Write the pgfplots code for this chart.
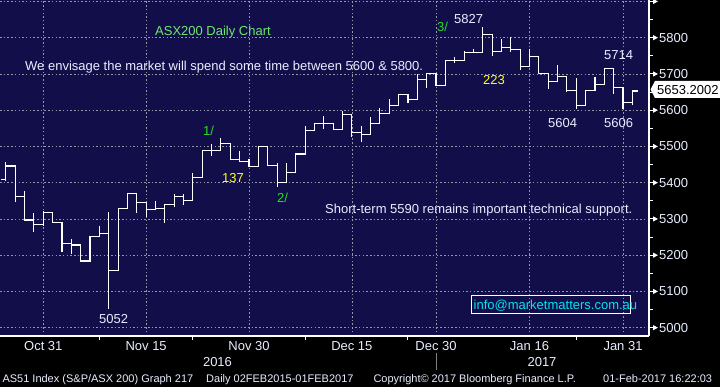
\documentclass[border=0pt]{standalone}
\usepackage{fontspec}
\setmainfont{Liberation Sans}
\usepackage{pgfplots}
\pgfplotsset{compat=1.18}
\usepackage{pgfplotstable}
\usetikzlibrary{arrows.meta}

\definecolor{bgnavy}{RGB}{17,14,74}
\definecolor{gridgray}{RGB}{150,150,165}
\definecolor{axtext}{RGB}{232,238,255}
\definecolor{lgreen}{RGB}{110,232,110}
\definecolor{wgreen}{RGB}{40,220,40}
\definecolor{wyellow}{RGB}{255,255,40}
\definecolor{wcyan}{RGB}{0,228,240}

% trading-day index k (0 = 25 Oct 2016), open, high, low, close
\pgfplotstableread{
k O H L C
0 5409 5455 5405 5446
1 5446 5446 5348 5363
2 5363 5375 5297 5297
3 5297 5316 5265 5285
4 5285 5320 5283 5318
5 5318 5318 5289 5291
6 5291 5291 5210 5231
7 5231 5244 5205 5228
8 5228 5228 5184 5184
9 5184 5251 5184 5251
10 5251 5279 5251 5260
11 5260 5317 5052 5158
12 5158 5329 5158 5329
13 5329 5371 5329 5371
14 5371 5371 5317 5346
15 5346 5346 5306 5327
16 5327 5348 5325 5329
17 5329 5341 5290 5341
18 5341 5368 5335 5363
19 5363 5368 5340 5350
20 5350 5426 5350 5414
21 5414 5488 5414 5488
22 5488 5504 5476 5488
23 5488 5523 5488 5509
24 5509 5509 5464 5464
25 5464 5485 5459 5459
26 5459 5465 5444 5444
27 5444 5501 5444 5501
28 5501 5501 5447 5447
29 5447 5453 5389 5400
30 5400 5453 5400 5429
31 5429 5479 5429 5479
32 5479 5554 5479 5545
33 5545 5564 5545 5564
34 5564 5582 5550 5564
35 5564 5564 5547 5547
36 5547 5596 5547 5587
37 5587 5587 5527 5539
38 5539 5554 5513 5533
39 5533 5580 5533 5564
40 5564 5605 5564 5591
41 5591 5628 5591 5613
42 5613 5644 5613 5644
43 5644 5644 5621 5630
44 5630 5697 5630 5685
45 5685 5700 5663 5700
46 5700 5700 5667 5667
47 5667 5736 5667 5736
48 5736 5746 5731 5738
49 5738 5761 5738 5760
50 5760 5766 5758 5760
51 5760 5827 5759 5810
52 5810 5810 5752 5761
53 5761 5794 5761 5772
54 5772 5800 5761 5768
55 5768 5768 5713 5720
56 5720 5768 5720 5748
57 5748 5748 5700 5702
58 5702 5702 5660 5680
59 5680 5722 5680 5692
60 5692 5692 5651 5654
61 5654 5688 5604 5613
62 5613 5654 5613 5654
63 5654 5691 5654 5672
64 5672 5714 5672 5714
65 5714 5714 5647 5663
66 5663 5663 5606 5621
67 5621 5655 5616 5653
}\ohlc

\begin{document}
\begin{tikzpicture}[every node/.style={inner sep=0pt, font=\fontsize{13}{13}\selectfont}]
\useasboundingbox (0pt,0pt) rectangle (720pt,-387pt);
\fill[black] (0pt,0pt) rectangle (720pt,-387pt);
\begin{axis}[
  at={(0pt,-336pt)}, anchor=south west,
  scale only axis, width=649pt, height=336pt,
  xmin=-0.63, xmax=68.78, ymin=4977, ymax=5904,
  axis background/.style={fill=bgnavy},
  axis x line*=bottom, axis y line*=right,
  axis line style={white, line width=1.2pt},
  xtick={4,15,26,37,46,56,66},
  xticklabels={Oct 31,Nov 15,Nov 30,Dec 15,Dec 30,Jan 16,Jan 31},
  minor xtick={10,20,32,43,61},
  ytick={5000,5100,5200,5300,5400,5500,5600,5700,5800,5900},
  yticklabels={5000,5100,5200,5300,5400,5500,5600,5700,5800,{}},
  minor ytick={5050,5150,5250,5350,5450,5550,5650,5750,5850},
  major tick length=0pt, minor tick length=3.5pt,
  tick align=outside,
  tick style={white, line width=1pt},
  grid=major,
  major grid style={gridgray, dash pattern=on 1.5pt off 2.2pt, line width=0.6pt},
  tick label style={font=\fontsize{13}{13}\selectfont, text=axtext},
  yticklabel style={anchor=west, inner sep=0pt, xshift=10pt},
  xticklabel style={anchor=north, inner sep=0pt, yshift=-5.5pt},
  clip mode=individual,
  ohlc/.style={draw=none, mark=none, forget plot,
    error bars/error mark=none,
    error bars/error bar style={draw=white, line width=1.1pt, line cap=rect}},
]
% high-low ranges
\addplot[ohlc, error bars/.cd, y dir=plus, y explicit]
  table[x=k, y=L, y error expr=\thisrow{H}-\thisrow{L}] {\ohlc};
% opens (left ticks)
\addplot[ohlc, error bars/.cd, x dir=minus, x fixed=0.5]
  table[x=k, y=O] {\ohlc};
% closes (right ticks)
\addplot[ohlc, error bars/.cd, x dir=plus, x fixed=0.5]
  table[x=k, y=C] {\ohlc};
\pgfplotsinvokeforeach{5000,5100,5200,5300,5400,5500,5600,5700,5800,5900}{
  \draw[white, line width=1pt, -{Triangle[length=5pt,width=5pt]}] (axis cs:68.78,#1) -- ++(9pt,0pt);
}
\end{axis}
% year separator and year labels
\draw[gray, line width=0.8pt] (436.7pt,-353pt) -- (436.7pt,-370pt);
\node[anchor=base, text=axtext] at (217.5pt,-366.7pt) {2016};
\node[anchor=base, text=axtext] at (542pt,-366.7pt) {2017};
% footer
\begin{scope}[every node/.style={inner sep=0pt, font=\fontsize{11}{11}\selectfont, text=axtext, anchor=base west}]
\node at (2.3pt,-382.3pt) {AS51 Index (S\&P/ASX 200) Graph 217};
\node at (206pt,-382.3pt) {Daily 02FEB2015-01FEB2017};
\node at (373.3pt,-382.3pt) {Copyright© 2017 Bloomberg Finance L.P.};
\node at (603pt,-382.3pt) {01-Feb-2017 16:22:03};
\end{scope}
% last price box
\fill[white] (650.5pt,-89.5pt) -- (655pt,-81pt) -- (720pt,-81pt) -- (720pt,-98pt) -- (655pt,-98pt) -- cycle;
\node[anchor=base west, text=black] at (657pt,-94.5pt) {5653.2002};
% annotations
\node[anchor=base west, text=lgreen] at (155pt,-36pt) {ASX200 Daily Chart};
\node[anchor=base west, text=axtext] at (25pt,-71pt) {We envisage the market will spend some time between 5600 \& 5800.};
\node[anchor=base west, text=wgreen] at (203pt,-136pt) {1/};
\node[anchor=base west, text=wyellow] at (222pt,-182.7pt) {137};
\node[anchor=base west, text=wgreen] at (277pt,-203pt) {2/};
\node[anchor=base west, text=wgreen] at (437pt,-31.7pt) {3/};
\node[anchor=base west, text=axtext] at (454pt,-24pt) {5827};
\node[anchor=base west, text=wyellow] at (483pt,-85pt) {223};
\node[anchor=base west, text=axtext] at (604pt,-59.3pt) {5714};
\node[anchor=base west, text=axtext] at (548pt,-127.3pt) {5604};
\node[anchor=base west, text=axtext] at (604pt,-127.3pt) {5606};
\node[anchor=base west, text=axtext] at (99pt,-323.3pt) {5052};
\node[anchor=base west, text=axtext] at (325pt,-214pt) {Short-term 5590 remains important technical support.};
\draw[white, line width=1pt] (471pt,-295.7pt) rectangle (630.7pt,-313.3pt);
\node[anchor=base west, text=wcyan] at (473.5pt,-309.3pt) {info@marketmatters.com.au};
\end{tikzpicture}
\end{document}
